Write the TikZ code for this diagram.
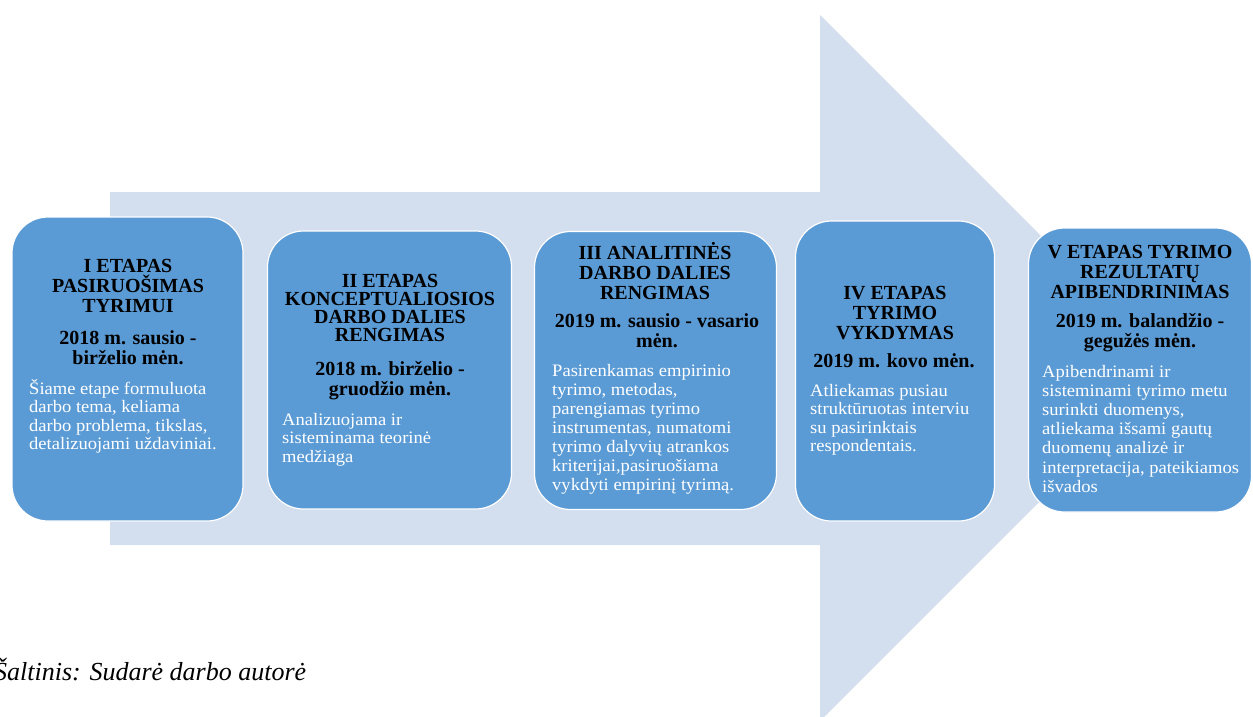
\documentclass[tikz,border=0pt]{standalone}
\usepackage{fontspec}
\setmainfont{Liberation Serif}
\newfontfamily\bodyfont[FakeStretch=1.06]{Liberation Serif}
\definecolor{boxblue}{HTML}{5B9BD5}
\definecolor{arrowtint}{HTML}{D3DEEF}
% title / date / body blocks; #1 = box width
\newcommand{\ctrblock}[2]{\parbox[t]{#1pt}{\centering #2}}
\newcommand{\leftblock}[1]{\parbox[t]{260pt}{\raggedright #1}}
\begin{document}
\begin{tikzpicture}[x=1pt,y=-1pt,
  stagebox/.style={draw=white, line width=1.2pt, fill=boxblue, rounded corners=36pt,
    rectangle, inner sep=0pt},
  ttl/.style={inner sep=0pt, anchor=base, font=\fontsize{20}{20}\selectfont\bfseries},
  datetxt/.style={inner sep=0pt, anchor=base, font=\fontsize{20}{20}\selectfont\bfseries},
  bodytxt/.style={inner sep=0pt, anchor=base west, text=white,
    font=\bodyfont\fontsize{17.5}{18.6}\selectfont},
  note/.style={inner sep=0pt, anchor=base west, font=\fontsize{26}{28}\selectfont\itshape}]
\useasboundingbox (0,0) rectangle (1253,716);
\begin{scope}
\clip (0,0) rectangle (1253,716);
% large background arrow
\fill[arrowtint] (110,192) -- (820,192) -- (820,15) -- (1173,368)
  -- (820,721) -- (820,545) -- (110,545) -- cycle;

% stage boxes
\node[stagebox, minimum width=231pt, minimum height=304pt] (b1) at (127.5,369) {};
\node[stagebox, minimum width=244pt, minimum height=278pt] (b2) at (389.5,370) {};
\node[stagebox, minimum width=242pt, minimum height=278pt] (b3) at (655.5,370.5) {};
\node[stagebox, minimum width=199pt, minimum height=300pt] (b4) at (895,371) {};
\node[stagebox, minimum width=223pt, minimum height=284pt] (b5) at (1140,370) {};

% stage I
\node[ttl] (t1) at (128,272) {\ctrblock{225}{I ETAPAS\\PASIRUOŠIMAS\\TYRIMUI}};
\node[datetxt] (d1) at (128,344) {\ctrblock{225}{2018 m. sausio -\\birželio mėn.}};
\node[bodytxt] (x1) at (29,394) {\leftblock{Šiame etape formuluota\\darbo tema, keliama\\darbo problema, tikslas,\\detalizuojami uždaviniai.}};

% stage II
\node[ttl, font=\fontsize{20}{18}\selectfont\bfseries] (t2) at (390,287) {\ctrblock{240}{II ETAPAS\\KONCEPTUALIOSIOS\\DARBO DALIES\\RENGIMAS}};
\node[datetxt] (d2) at (390,375) {\ctrblock{240}{2018 m. birželio -\\gruodžio mėn.}};
\node[bodytxt] (x2) at (282,425) {\leftblock{Analizuojama ir\\sisteminama teorinė\\medžiaga}};

% stage III
\node[ttl] (t3) at (655,259) {\ctrblock{236}{III ANALITINĖS\\DARBO DALIES\\RENGIMAS}};
\node[datetxt] (d3) at (657,327) {\ctrblock{236}{2019 m. sausio - vasario\\mėn.}};
\node[bodytxt, font=\bodyfont\fontsize{17.5}{19}\selectfont] (x3) at (552,376.5) {\leftblock{Pasirenkamas empirinio\\tyrimo, metodas,\\parengiamas tyrimo\\instrumentas, numatomi\\tyrimo dalyvių atrankos\\kriterijai,pasiruošiama\\vykdyti empirinį tyrimą.}};

% stage IV
\node[ttl] (t4) at (895,299) {\ctrblock{196}{IV ETAPAS\\TYRIMO\\VYKDYMAS}};
\node[datetxt] (d4) at (894,367) {\ctrblock{196}{2019 m. kovo mėn.}};
\node[bodytxt, font=\bodyfont\fontsize{17.5}{18.4}\selectfont] (x4) at (810,396.5) {\leftblock{Atliekamas pusiau\\struktūruotas interviu\\su pasirinktais\\respondentais.}};

% stage V
\node[ttl] (t5) at (1140,258.5) {\ctrblock{222}{V ETAPAS TYRIMO\\REZULTATŲ\\APIBENDRINIMAS}};
\node[datetxt] (d5) at (1140,327) {\ctrblock{222}{2019 m. balandžio -\\gegužės mėn.}};
\node[bodytxt, font=\bodyfont\fontsize{17.5}{19.2}\selectfont] (x5) at (1042,377) {\leftblock{Apibendrinami ir\\sisteminami tyrimo metu\\surinkti duomenys,\\atliekama išsami gautų\\duomenų analizė ir\\interpretacija, pateikiamos\\išvados}};

% source line
\node[note] (src) at (-6,680) {Šaltinis: Sudarė darbo autorė};
\end{scope}
\end{tikzpicture}
\end{document}
